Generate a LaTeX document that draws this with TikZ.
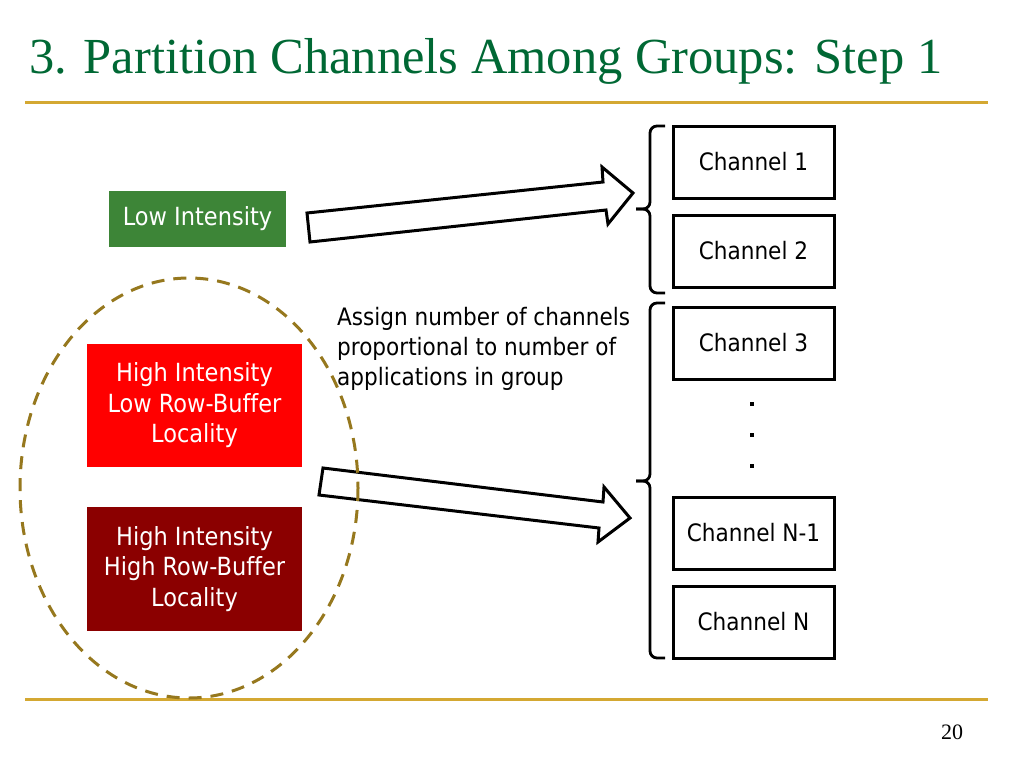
\documentclass[tikz,border=0pt]{standalone}
\usepackage{fontspec}
\usepackage{tikz}
\setmainfont{Liberation Serif}
\newfontfamily\boxfont[Ligatures=NoCommon]{DejaVu Sans Condensed}
\definecolor{titlegreen}{RGB}{0,104,52}
\definecolor{rulegold}{RGB}{212,168,50}
\definecolor{lowgreen}{RGB}{61,133,55}
\definecolor{darkred}{RGB}{139,0,0}
\definecolor{olive}{RGB}{150,120,30}

\begin{document}
\begin{tikzpicture}[x=1pt, y=-1pt,
        chbox/.style={draw, line width=3pt, minimum width=161pt, minimum height=72pt, inner sep=0pt,
            font=\boxfont\fontsize{24}{30}\selectfont},
        grpbox/.style={text=white, align=center, inner sep=0pt,
            font=\boxfont\fontsize{25}{30.5}\selectfont}]
        \useasboundingbox (0, 0) rectangle (1024, 768);
        \node[anchor=base west, text=titlegreen, font=\fontsize{50.5}{60}\selectfont, inner sep=0pt] (title) at (29, 74) {3. Partition Channels Among Groups: Step 1};
        \draw[rulegold, line width=3pt] (25, 102) -- (988, 102);
        \draw[rulegold, line width=3pt] (25, 699) -- (988, 699);
        \node[anchor=base, font=\fontsize{22}{26}\selectfont, inner sep=0pt] (page) at (952, 739) {20};

        \node[grpbox, fill=lowgreen, minimum width=177pt, minimum height=56pt] (low) at (197.5, 219) {Low Intensity};
        \node[grpbox, fill=red, minimum width=215pt, minimum height=123pt] (hilo) at (194.5, 405.5) {High Intensity\\Low Row-Buffer\\Locality};
        \node[grpbox, fill=darkred, minimum width=215pt, minimum height=124pt] (hihi) at (194.5, 569) {High Intensity\\High Row-Buffer\\Locality};

        \node[chbox] (ch1) at (753.5, 162) {Channel 1};
        \node[chbox] (ch2) at (753.5, 251) {Channel 2};
        \node[chbox] (ch3) at (753.5, 343) {Channel 3};
        \node[chbox] (chn1) at (753.5, 533) {Channel N-1};
        \node[chbox] (chn) at (753.5, 622) {Channel N};
        \fill (750, 402) rectangle (754, 406);
        \fill (750, 433) rectangle (754, 437);
        \fill (750, 464) rectangle (754, 468);

        \draw[line width=2.8pt, rounded corners=7pt] (665, 126) -| (650, 209) -- (636, 209);
        \draw[line width=2.8pt, rounded corners=7pt] (665, 293) -| (650, 209) -- (636, 209);
        \draw[line width=2.8pt, rounded corners=7pt] (665, 303) -| (650, 481) -- (636, 481);
        \draw[line width=2.8pt, rounded corners=7pt] (665, 658) -| (650, 481) -- (636, 481);

        \filldraw[fill=white, line width=3pt, line join=miter] (307, 213) -- (603, 182) -- (602, 167) -- (633, 193) -- (608, 224) -- (606, 210) -- (310, 242) -- cycle;
        \draw[line width=3pt, line join=miter] (323, 468) -- (603, 502) -- (604, 487) -- (630, 518) -- (598, 542) -- (599, 528) -- (319, 495) -- cycle;

        \draw[olive, line width=3pt, dash pattern=on 13pt off 9pt] (189, 488) ellipse (169 and 210);

        \node[anchor=north west, align=left, inner sep=0pt, font=\boxfont\fontsize{24}{30}\selectfont] (assign) at (337, 307) {Assign number of channels\\proportional to number of\\applications in group};
    \end{tikzpicture}
\end{document}
